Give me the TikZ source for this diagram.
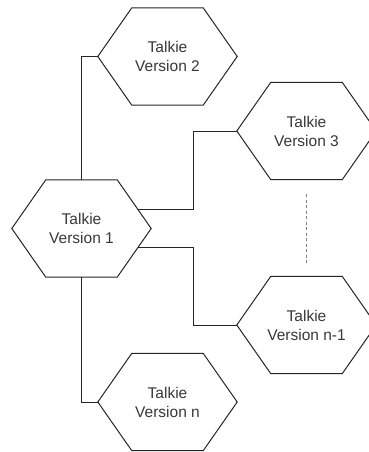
\documentclass[tikz,border=0pt]{standalone}
\usepackage{fontspec}
\setmainfont{Liberation Sans}
\usetikzlibrary{calc}
\begin{document}
\begin{tikzpicture}[x=1pt,y=-1pt,
  hexbox/.style={shape=rectangle,minimum width=139pt,minimum height=97pt,inner sep=0pt,
    align=center,text=black!78,font=\fontsize{15.5}{19}\selectfont},
  hexline/.style={draw=black!85,line width=1pt,line join=miter},
  link/.style={draw=black!85,line width=1pt},
  dots/.style={draw=black!50,line width=1.3pt,dash pattern=on 3pt off 2.5pt}]
\useasboundingbox (0,0) rectangle (369,452);
\fill[white] (0,0) rectangle (369,452);
\clip (0,0) rectangle (369,452);
\node[hexbox] (h1) at (81.5,228.5) {Talkie\\Version 1};
\node[hexbox] (h2) at (167.5,56.5) {Talkie\\Version 2};
\node[hexbox] (h3) at (306.5,131) {Talkie\\Version 3};
\node[hexbox] (hn1) at (306.5,325) {Talkie\\Version n-1};
\node[hexbox] (hn) at (167.5,402) {Talkie\\Version n};
\foreach \n in {h1,h2,h3,hn1,hn}
  \draw[hexline] (\n.west) -- ([xshift=34pt]\n.north west) -- ([xshift=-34pt]\n.north east)
    -- (\n.east) -- ([xshift=-34pt]\n.south east) -- ([xshift=34pt]\n.south west) -- cycle;
\coordinate (p1) at ($([xshift=-34pt]h1.north east)!0.6!(h1.east)$);
\coordinate (p2) at ($([xshift=-34pt]h1.south east)!0.6!(h1.east)$);
\coordinate (bx) at (193,0);
\draw[link] (h1.north) |- (h2.west);
\draw[link] (h1.south) |- (hn.west);
\draw[link] (p1) -- (p1 -| bx) |- (h3.west);
\draw[link] (p2) -- (p2 -| bx) |- (hn1.west);
\draw[dots] ([yshift=-14.5pt]h3.south) -- ([yshift=13.5pt]hn1.north);
\end{tikzpicture}
\end{document}
